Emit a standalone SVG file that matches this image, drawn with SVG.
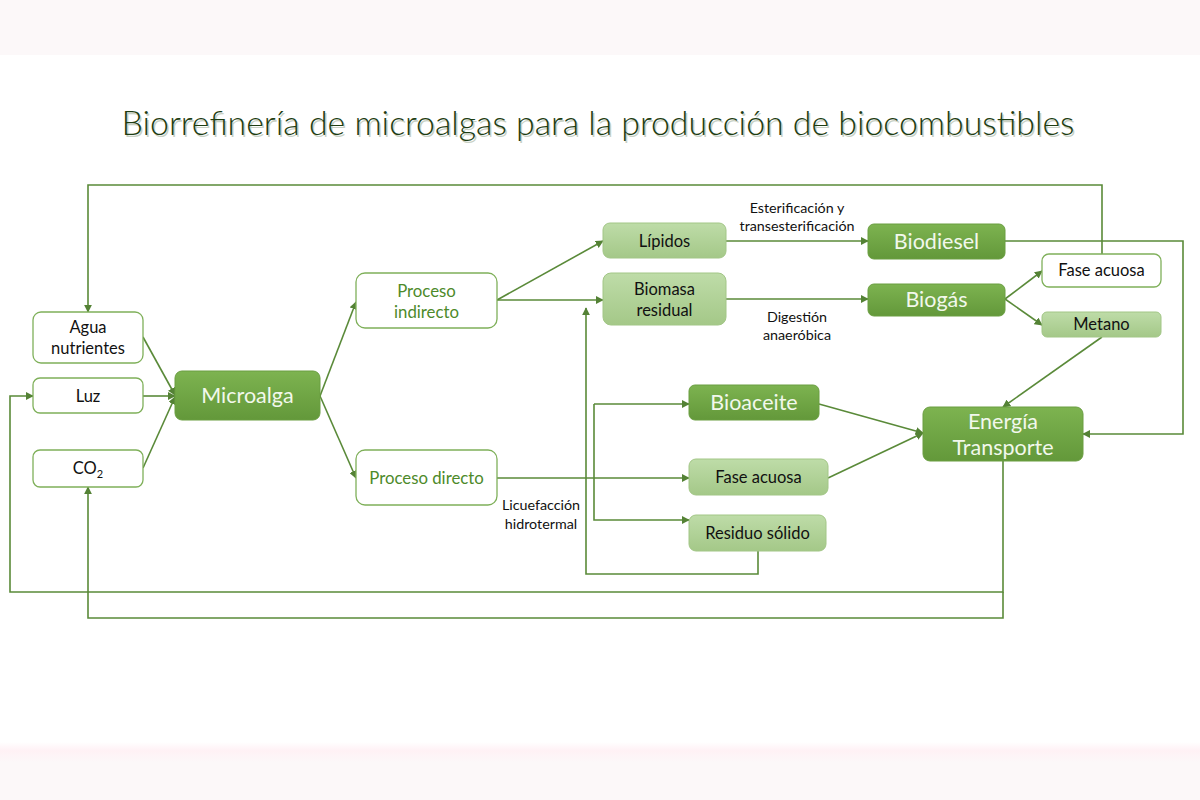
<svg xmlns="http://www.w3.org/2000/svg" width="1200" height="800" viewBox="0 0 1200 800">
<defs>
<linearGradient id="gMed" x1="0" y1="0" x2="0" y2="1"><stop offset="0" stop-color="#7db350"/><stop offset="1" stop-color="#63983a"/></linearGradient>
<linearGradient id="gLight" x1="0" y1="0" x2="0" y2="1"><stop offset="0" stop-color="#bedca8"/><stop offset="1" stop-color="#a4c888"/></linearGradient>
<linearGradient id="gBand" x1="0" y1="0" x2="0" y2="1"><stop offset="0" stop-color="#ffffff"/><stop offset="0.15" stop-color="#fff1f5"/><stop offset="0.35" stop-color="#fcf8f9"/><stop offset="1" stop-color="#fcf8f9"/></linearGradient>
<marker id="arr" viewBox="0 0 10 10" refX="9" refY="5" markerWidth="8" markerHeight="8" markerUnits="userSpaceOnUse" orient="auto"><path d="M0,0 L10,5 L0,10 z" fill="#548235"/></marker>
</defs>
<style>
.c{fill:none;stroke:#5a8a39;stroke-width:1.6}
.w{fill:#ffffff;stroke:#7fb05a;stroke-width:1.3}
.m{fill:url(#gMed);stroke:#6a9e41;stroke-width:1}
.l{fill:url(#gLight);stroke:#a2c686;stroke-width:1}
.t{font-family:Lato,"Open Sans","Liberation Sans",sans-serif;font-size:16.5px;fill:#111;text-anchor:middle}
.tg{font-family:Lato,"Open Sans","Liberation Sans",sans-serif;font-size:16.8px;fill:#4d8a2a;text-anchor:middle}
.tw{font-family:Lato,"Open Sans","Liberation Sans",sans-serif;font-size:21.5px;fill:#f2f8ec;text-anchor:middle}
.lb{font-family:Lato,"Open Sans","Liberation Sans",sans-serif;font-size:14.3px;fill:#111;text-anchor:middle}
</style>
<rect x="0" y="0" width="1200" height="800" fill="#ffffff"/>
<rect x="0" y="0" width="1200" height="55" fill="#fcf8f9"/>
<rect x="0" y="742" width="1200" height="58" fill="url(#gBand)"/>
<g id="title">
<text x="599.5" y="136.5" font-family="Lato,'Open Sans','Liberation Sans',sans-serif" font-weight="300" font-size="34" fill="#c8d0c4" text-anchor="middle" textLength="953" lengthAdjust="spacingAndGlyphs">Biorrefinería de microalgas para la producción de biocombustibles</text>
<text x="598" y="135" font-family="Lato,'Open Sans','Liberation Sans',sans-serif" font-weight="300" font-size="34" fill="#1e3d12" text-anchor="middle" textLength="953" lengthAdjust="spacingAndGlyphs">Biorrefinería de microalgas para la producción de biocombustibles</text>
</g>
<g id="connectors">
<path class="c" d="M143,337 L175,395" marker-end="url(#arr)"/>
<path class="c" d="M143,396 L175,396" marker-end="url(#arr)"/>
<path class="c" d="M143,468 L175,397" marker-end="url(#arr)"/>
<path class="c" d="M320,396 L356,302" marker-end="url(#arr)"/>
<path class="c" d="M320,396 L356,478" marker-end="url(#arr)"/>
<path class="c" d="M497,300 L603,241" marker-end="url(#arr)"/>
<path class="c" d="M497,300 L603,300" marker-end="url(#arr)"/>
<path class="c" d="M726,241 L868,241" marker-end="url(#arr)"/>
<path class="c" d="M726,299 L868,299" marker-end="url(#arr)"/>
<path class="c" d="M1005,299 L1042,271" marker-end="url(#arr)"/>
<path class="c" d="M1005,299 L1042,325" marker-end="url(#arr)"/>
<path class="c" d="M1102,337 L1003,407" marker-end="url(#arr)"/>
<path class="c" d="M1005,241 L1183,241 L1183,434 L1083,434" marker-end="url(#arr)"/>
<path class="c" d="M1102,254 L1102,185 L88,185 L88,312" marker-end="url(#arr)"/>
<path class="c" d="M497,478 L689,478" marker-end="url(#arr)"/>
<path class="c" d="M594,404 L689,404" marker-end="url(#arr)"/>
<path class="c" d="M594,404 L594,520 L689,520" marker-end="url(#arr)"/>
<path class="c" d="M758,551 L758,574 L586,574 L586,308" marker-end="url(#arr)"/>
<path class="c" d="M819,404 L923,433" marker-end="url(#arr)"/>
<path class="c" d="M828,478 L923,433" marker-end="url(#arr)"/>
<path class="c" d="M1003,461 L1003,592 L10,592 L10,396 L33,396" marker-end="url(#arr)"/>
<path class="c" d="M1003,592 L1003,618 L88,618 L88,487" marker-end="url(#arr)"/>
</g>
<g id="n-agua"><rect class="w" x="33" y="312" width="110" height="51" rx="8"/><text class="t" x="88" y="333">Agua</text><text class="t" x="88" y="354">nutrientes</text></g>
<g id="n-luz"><rect class="w" x="33" y="378" width="110" height="35" rx="7"/><text class="t" x="88" y="402">Luz</text></g>
<g id="n-co2"><rect class="w" x="33" y="450" width="110" height="37" rx="7"/><text class="t" x="88" y="474">CO<tspan font-size="11" dy="4">2</tspan></text></g>
<g id="n-microalga"><rect class="m" x="175" y="371" width="145" height="49" rx="7"/><text class="tw" x="247.5" y="403">Microalga</text></g>
<g id="n-indirecto"><rect class="w" x="356" y="273" width="141" height="55" rx="9"/><text class="tg" x="426.5" y="297">Proceso</text><text class="tg" x="426.5" y="318">indirecto</text></g>
<g id="n-directo"><rect class="w" x="356" y="450" width="141" height="55" rx="9"/><text class="tg" x="426.5" y="484">Proceso directo</text></g>
<g id="n-lipidos"><rect class="l" x="603" y="223" width="123" height="35" rx="7"/><text class="t" x="664.5" y="247">Lípidos</text></g>
<g id="n-biomasa"><rect class="l" x="603" y="273" width="123" height="52" rx="8"/><text class="t" x="664.5" y="295">Biomasa</text><text class="t" x="664.5" y="316">residual</text></g>
<g id="n-biodiesel"><rect class="m" x="868" y="224" width="137" height="35" rx="6"/><text class="tw" x="936.5" y="249">Biodiesel</text></g>
<g id="n-biogas"><rect class="m" x="868" y="284" width="137" height="32" rx="6"/><text class="tw" x="936.5" y="307">Biogás</text></g>
<g id="n-fase1"><rect class="w" x="1042" y="254" width="119" height="33" rx="7"/><text class="t" x="1101.5" y="276">Fase acuosa</text></g>
<g id="n-metano"><rect class="l" x="1042" y="312" width="119" height="25" rx="5"/><text class="t" x="1101.5" y="330">Metano</text></g>
<g id="n-bioaceite"><rect class="m" x="689" y="385" width="130" height="35" rx="6"/><text class="tw" x="754" y="410">Bioaceite</text></g>
<g id="n-fase2"><rect class="l" x="689" y="459" width="139" height="36" rx="7"/><text class="t" x="758.5" y="483">Fase acuosa</text></g>
<g id="n-residuo"><rect class="l" x="689" y="515" width="137" height="36" rx="7"/><text class="t" x="757.5" y="539">Residuo sólido</text></g>
<g id="n-energia"><rect class="m" x="923" y="407" width="160" height="54" rx="7"/><text class="tw" x="1003" y="429">Energía</text><text class="tw" x="1003" y="455">Transporte</text></g>
<g id="labels">
<text class="lb" x="797" y="213">Esterificación y</text>
<text class="lb" x="797" y="231">transesterificación</text>
<text class="lb" x="797" y="322">Digestión</text>
<text class="lb" x="797" y="340">anaeróbica</text>
<text class="lb" x="541" y="510">Licuefacción</text>
<text class="lb" x="541" y="529">hidrotermal</text>
</g>
</svg>
